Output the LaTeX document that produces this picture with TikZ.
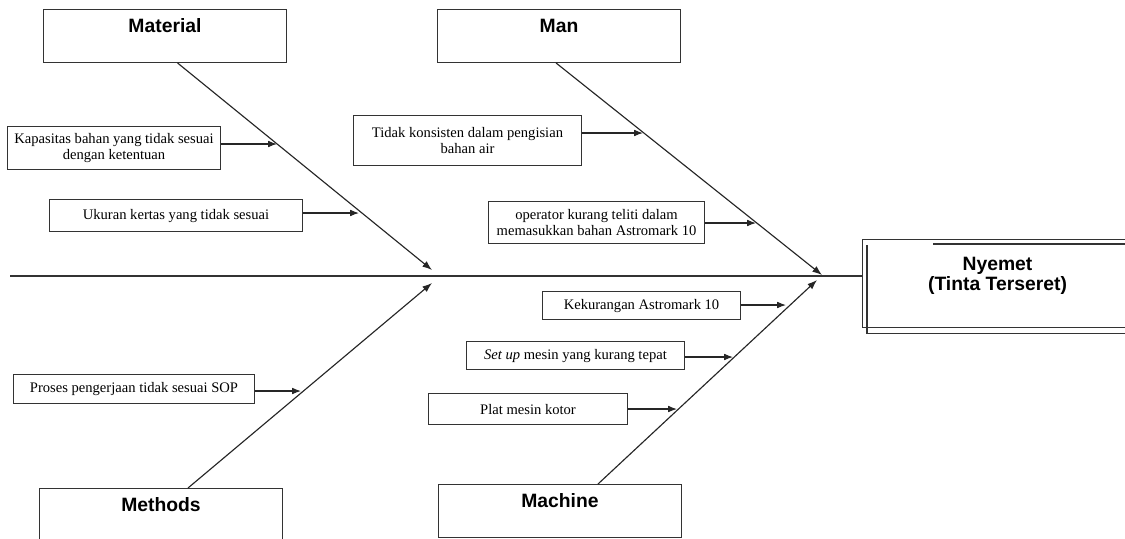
\documentclass[tikz,border=0pt]{standalone}
\usepackage{fontspec}
\setmainfont{Liberation Serif}
\newfontfamily\headfam{Liberation Sans}
\usetikzlibrary{arrows.meta,calc}
\tikzset{
  headbox/.style={draw=black!80, line width=0.6pt, inner sep=0pt, anchor=north west,
    minimum width=4.86cm, text height=12.9pt, text depth=17.2pt,
    font=\headfam\fontsize{11}{13}\selectfont\bfseries},
  causebox/.style={draw=black!80, line width=0.6pt, inner sep=1pt, anchor=north west,
    align=center, font=\fontsize{8.3}{9.6}\selectfont},
  bone/.style={draw=black!85, line width=0.65pt, -{Latex[length=5.5pt,width=4pt]}},
  twig/.style={draw=black!85, line width=0.65pt, -{Latex[length=5pt,width=3.8pt]}},
  spine/.style={draw=black!80, line width=0.7pt}
}
\begin{document}
\begin{tikzpicture}[x=0.02cm,y=-0.02cm]
\useasboundingbox (0,0) rectangle (1125,538);
\begin{scope}
\clip (0,0) rectangle (1125,538);
% header boxes
\node[headbox] (mat) at (43,9) {Material};
\node[headbox] (man) at (437,9) {Man};
\node[headbox] (met) at (39,488) {Methods};
\node[headbox] (mac) at (438,484) {Machine};
% effect box
\node[draw=black!80, line width=0.6pt, inner sep=0pt, anchor=north west,
      minimum width=5.4cm, text height=17.6pt, text depth=32.3pt,
      font=\headfam\fontsize{11}{10.9}\selectfont\bfseries] (nye) at (862,239)
      {\begin{tabular}[t]{@{}c@{}}Nyemet\\(Tinta Terseret)\end{tabular}};
\draw[black!80, line width=0.6pt] ([xshift=1.42cm,yshift=-0.1cm]nye.north west) -- ([yshift=-0.1cm]nye.north east);
\draw[black!80, line width=0.6pt] ([xshift=0.1cm,yshift=-0.12cm]nye.north west) -- ([xshift=0.1cm,yshift=-0.12cm]nye.south west) -- ([yshift=-0.12cm]nye.south east);
% cause boxes
\node[causebox, minimum width=4.26cm, minimum height=0.86cm] (kap) at (7,126) {Kapasitas bahan yang tidak sesuai\\dengan ketentuan};
\node[causebox, minimum width=5.06cm, minimum height=0.64cm] (uk) at (49,199) {Ukuran kertas yang tidak sesuai};
\node[causebox, minimum width=4.56cm, minimum height=1.0cm] (tid) at (353,115) {Tidak konsisten dalam pengisian\\bahan air};
\node[causebox, minimum width=4.32cm, minimum height=0.84cm] (op) at (488,201) {operator kurang teliti dalam\\memasukkan bahan Astromark 10};
\node[causebox, minimum width=4.82cm, minimum height=0.58cm] (pro) at (13,374) {Proses pengerjaan tidak sesuai SOP};
\node[causebox, minimum width=3.96cm, minimum height=0.56cm] (kek) at (542,291) {Kekurangan Astromark 10};
\node[causebox, minimum width=4.36cm, minimum height=0.56cm] (set) at (466,341) {\textit{Set up} mesin yang kurang tepat};
\node[causebox, minimum width=3.98cm, minimum height=0.62cm] (plat) at (428,393) {Plat mesin kotor};
% spine
\coordinate (spL) at (10,276);
\draw[spine] (spL) -- (spL -| nye.west);
% bone tips
\coordinate (tMat) at (432,270);
\coordinate (tMan) at (822,275);
\coordinate (tMet) at (432,283);
\coordinate (tMac) at (817,280);
\draw[bone] ([xshift=0.25cm]mat.south) -- (tMat);
\draw[bone] ([xshift=-0.06cm]man.south) -- (tMan);
\draw[bone] ([xshift=0.54cm]met.north) -- (tMet);
\draw[bone] ([xshift=0.76cm]mac.north) -- (tMac);
% twig tips
\coordinate (tKap) at (277,144);
\coordinate (tUk) at (359,213);
\coordinate (tTid) at (643,133);
\coordinate (tOp) at (756,223);
\coordinate (tPro) at (301,391);
\coordinate (tKek) at (786,305);
\coordinate (tSet) at (733,357);
\coordinate (tPlat) at (677,409);
\draw[twig] (kap.east |- tKap) -- (tKap);
\draw[twig] (uk.east |- tUk) -- (tUk);
\draw[twig] (tid.east |- tTid) -- (tTid);
\draw[twig] (op.east |- tOp) -- (tOp);
\draw[twig] (pro.east |- tPro) -- (tPro);
\draw[twig] (kek.east |- tKek) -- (tKek);
\draw[twig] (set.east |- tSet) -- (tSet);
\draw[twig] (plat.east |- tPlat) -- (tPlat);
\end{scope}
\end{tikzpicture}
\end{document}
